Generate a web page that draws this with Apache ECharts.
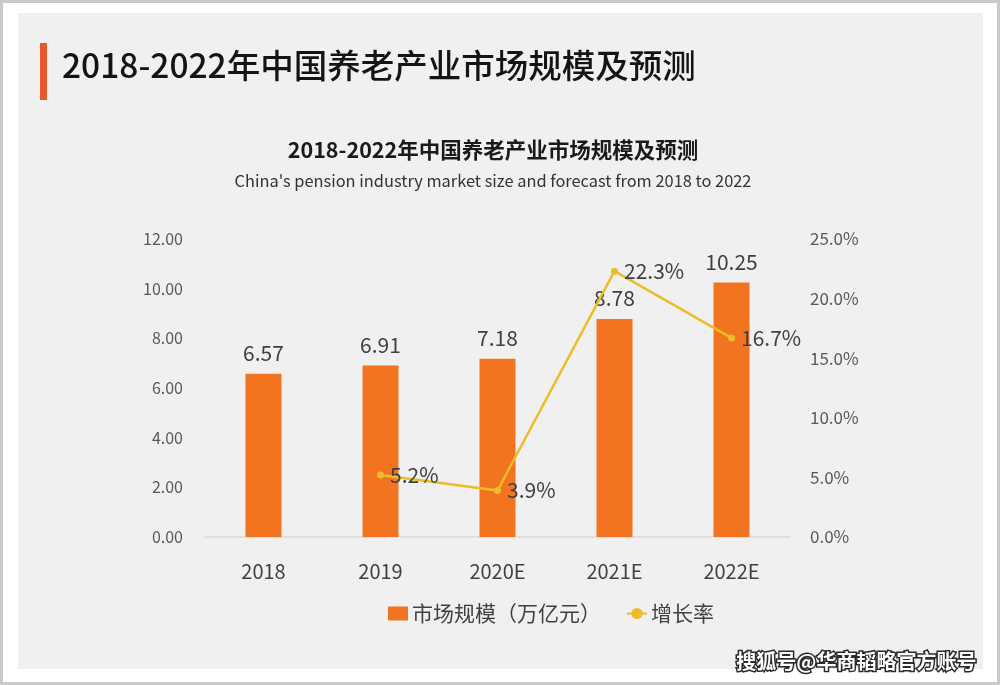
<!DOCTYPE html>
<html>
<head>
<meta charset="utf-8">
<script src="https://cdn.jsdelivr.net/npm/echarts@6/dist/echarts.min.js"></script>
<style>
html,body{margin:0;padding:0;background:#fff;}
#chart{width:1000px;height:685px;}
</style>
</head>
<body>
<div id="chart"></div>
<script>
const categories = ['2018', '2019', '2020E', '2021E', '2022E'];
const marketSize = [6.57, 6.91, 7.18, 8.78, 10.25];
const growthRate = [null, 5.2, 3.9, 22.3, 16.7];
const leftTicks = { min: 0, max: 12, interval: 2 };
const rightTicks = { min: 0, max: 25, interval: 5 };
const headerTitle = '2018-2022年中国养老产业市场规模及预测';
const chartTitle = '2018-2022年中国养老产业市场规模及预测';
const chartSubtitle = "China's pension industry market size and forecast from 2018 to 2022";
const seriesNames = ['市场规模（万亿元）', '增长率'];
const watermark = '搜狐号@华商韬略官方账号';

const FONT = '"Noto Sans CJK SC", "Noto Sans", sans-serif';
const chart = echarts.init(document.getElementById('chart'), null, { renderer: 'canvas' });

chart.setOption({
  backgroundColor: '#ffffff',
  textStyle: { fontFamily: FONT },
  graphic: [
    { type: 'rect', z: -10, shape: { x: 1.5, y: 1.5, width: 997, height: 682 },
      style: { fill: '#ffffff', stroke: '#c9c9c9', lineWidth: 3 } },
    { type: 'rect', z: -9, shape: { x: 18, y: 13, width: 965, height: 656 },
      style: { fill: '#f1f0f0' } },
    { type: 'rect', z: -8, shape: { x: 40, y: 43, width: 7, height: 57 },
      style: { fill: '#e8582a' } },
    { type: 'text', left: 62, top: 49,
      style: { text: headerTitle, font: '500 33.5px ' + FONT, fill: '#141414' } },
    { type: 'text', right: 22, top: 650, z: 100,
      style: { text: watermark, font: 'bold 20px ' + FONT, fill: '#ffffff', stroke: '#2a2a2a', lineWidth: 3 } }
  ],
  title: {
    text: chartTitle,
    subtext: chartSubtitle,
    left: 488,
    textAlign: 'center',
    top: 134,
    itemGap: 12,
    textStyle: { fontFamily: FONT, fontSize: 21.5, fontWeight: 'bold', color: '#1a1a1a' },
    subtextStyle: { fontFamily: FONT, fontSize: 16.4, color: '#333333' }
  },
  legend: {
    top: 598,
    left: 383,
    itemGap: 25,
    itemWidth: 20,
    itemHeight: 14,
    textStyle: { fontFamily: FONT, fontSize: 21, color: '#404040', padding: [0, 0, 0, -1] },
    data: [
      { name: seriesNames[0], icon: 'rect' },
      { name: seriesNames[1] }
    ]
  },
  grid: { left: 205, right: 210, top: 239, bottom: 148, containLabel: false },
  xAxis: {
    type: 'category',
    data: categories,
    axisLine: { lineStyle: { color: '#d9d9d9', width: 1.5 } },
    axisTick: { show: false },
    axisLabel: { fontFamily: FONT, fontSize: 20, color: '#404040', margin: 24 }
  },
  yAxis: [
    {
      type: 'value', min: leftTicks.min, max: leftTicks.max, interval: leftTicks.interval,
      axisLine: { show: false }, axisTick: { show: false }, splitLine: { show: false },
      axisLabel: { fontFamily: FONT, fontSize: 16, color: '#595959', margin: 22,
        formatter: v => v.toFixed(2) }
    },
    {
      type: 'value', min: rightTicks.min, max: rightTicks.max, interval: rightTicks.interval,
      axisLine: { show: false }, axisTick: { show: false }, splitLine: { show: false },
      axisLabel: { fontFamily: FONT, fontSize: 17, color: '#595959', margin: 20,
        formatter: v => v.toFixed(1) + '%' }
    }
  ],
  series: [
    {
      name: seriesNames[0],
      type: 'bar',
      data: marketSize,
      barWidth: 36,
      itemStyle: { color: '#f27420' },
      label: { show: true, position: 'top', distance: 10, fontFamily: FONT, fontSize: 21, color: '#404040',
        formatter: p => p.value.toFixed(2) }
    },
    {
      name: seriesNames[1],
      type: 'line',
      yAxisIndex: 1,
      data: growthRate,
      connectNulls: false,
      symbol: 'circle',
      symbolSize: 7,
      lineStyle: { color: '#ecbc2a', width: 2.5 },
      itemStyle: { color: '#ecbc2a' },
      label: { show: true, position: 'right', distance: 6, fontFamily: FONT, fontSize: 21, color: '#404040',
        formatter: p => p.value.toFixed(1) + '%' }
    }
  ]
});
</script>
</body>
</html>
